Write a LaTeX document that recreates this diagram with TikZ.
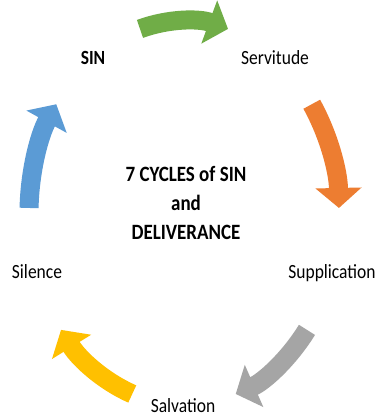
\documentclass[tikz,border=0pt]{standalone}
\usepackage{fontspec}
\setmainfont{Carlito}
\usetikzlibrary{arrows.meta,calc}
\definecolor{cgreen}{HTML}{70AD47}
\definecolor{corange}{HTML}{ED7D31}
\definecolor{cgray}{HTML}{A5A5A5}
\definecolor{cyellow}{HTML}{FFC000}
\definecolor{cblue}{HTML}{5B9BD5}
\begin{document}
\begin{tikzpicture}[x=1pt,y=1pt,
  lbl/.style={font=\fontsize{17.5}{21}\selectfont, inner sep=0pt, text=black, transform shape, yscale=1.15},
  cyc/.style={line width=19pt, -{Triangle[width=45pt,length=20pt]}},
]
\useasboundingbox[fill=white] (0,0) rectangle (377,417);
\coordinate (O) at (184,204);
% labels
\node[lbl, font=\fontsize{17.5}{21}\selectfont\bfseries] (sin) at (93,359) {SIN};
\node[lbl] (serv) at (275,359) {Servitude};
\node[lbl] (supp) at (332,144) {Supplication};
\node[lbl] (salv) at (183,11.5) {Salvation};
\node[lbl] (sil) at (37,145) {Silence};
\node[lbl, font=\fontsize{19}{24.8}\selectfont\bfseries, align=center] (ctr) at (186,214) {7 CYCLES of SIN\\and\\DELIVERANCE};
% arrows
\coordinate (g1) at ($(O)+(106.5:155pt and 192pt)$);
\coordinate (o1) at ($(O)+(34.5:155pt and 192pt)$);
\coordinate (r1) at ($(O)+(-37.5:155pt and 192pt)$);
\coordinate (y1) at ($(O)+(-109.5:155pt and 192pt)$);
\coordinate (b1) at ($(O)+(178.5:155pt and 192pt)$);
\draw[cyc, cgreen] (g1) arc[start angle=106.5, end angle=73.5, x radius=155pt, y radius=192pt];
\draw[cyc, corange] (o1) arc[start angle=34.5, end angle=1.5, x radius=155pt, y radius=192pt];
\draw[cyc, cgray] (r1) arc[start angle=-37.5, end angle=-70.5, x radius=155pt, y radius=192pt];
\draw[cyc, cyellow] (y1) arc[start angle=-109.5, end angle=-142.5, x radius=155pt, y radius=192pt];
\draw[cyc, cblue] (b1) arc[start angle=178.5, end angle=145.5, x radius=155pt, y radius=192pt];
\end{tikzpicture}
\end{document}
